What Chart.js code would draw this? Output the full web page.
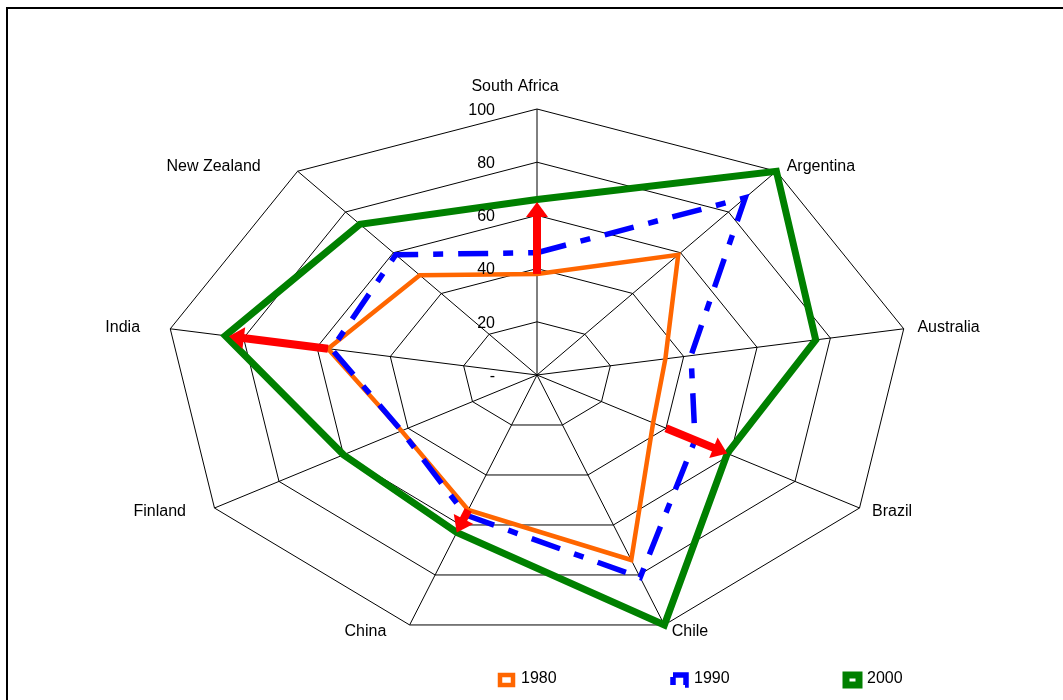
<!DOCTYPE html>
<html>
<head>
<meta charset="utf-8">
<script src="https://cdn.jsdelivr.net/npm/chart.js@4.4.1/dist/chart.umd.min.js"></script>
<style>
html, body { margin: 0; padding: 0; background: #fff; overflow: hidden; }
#frame { position: absolute; left: 6px; top: 7px; width: 1100px; height: 760px;
         border-left: 2px solid #000; border-top: 2px solid #000; box-sizing: border-box; }
#wrap { position: absolute; left: 0; top: 0; width: 1063px; height: 700px; }
</style>
</head>
<body>
<div id="frame"></div>
<div id="wrap"><canvas id="c"></canvas></div>
<script>
// ---- data ----
const categories = ['South Africa', 'Argentina', 'Australia', 'Brazil', 'Chile', 'China', 'Finland', 'India', 'New Zealand'];
const seriesNames = ['1980', '1990', '2000'];
const values1980 = [38, 59, 35, 36, 74, 54, 42, 57, 49];
const values1990 = [46, 87, 42, 49, 81, 56, 42, 56, 59];
const values2000 = [66, 100, 76, 59, 100, 63, 60, 85, 74];
const tickLabels = ['-', '20', '40', '60', '80', '100'];
// red change arrows (from -> to, same value scale)
const arrowCountries = ['South Africa', 'Brazil', 'China', 'India'];
const arrowFrom = [38, 40, 54, 57];
const arrowTo = [65, 59, 63, 84];

// ---- the plot is an ellipse in the reference: stretch the radial scale horizontally ----
const SX = 1.4;
const RL = Chart.RadialLinearScale || Chart.registry.getScale('radialLinear');
const baseGetPointPosition = RL.prototype.getPointPosition;
RL.prototype.getPointPosition = function (index, distance, extra) {
  const p = baseGetPointPosition.call(this, index, distance, extra);
  return { x: this.xCenter + (p.x - this.xCenter) * SX, y: p.y, angle: p.angle };
};

const FONT = '16px "Liberation Sans", Arial, sans-serif';
const CAP = 5.7; // half cap height at 16px

const annotate = {
  id: 'annotate',
  afterDatasetsDraw(chart) {
    const s = chart.scales.r, ctx = chart.ctx;
    ctx.save();
    ctx.fillStyle = '#FF0000';
    ctx.strokeStyle = '#FF0000';
    arrowCountries.forEach((name, k) => {
      const i = chart.data.labels.indexOf(name);
      const a = s.getPointPositionForValue(i, arrowFrom[k]);
      const b = s.getPointPositionForValue(i, arrowTo[k]);
      const dx = b.x - a.x, dy = b.y - a.y, len = Math.hypot(dx, dy);
      const ux = dx / len, uy = dy / len;
      const headLen = 15, headW = 22;
      const hx = b.x - ux * headLen, hy = b.y - uy * headLen;
      ctx.lineWidth = 8;
      ctx.lineCap = 'butt';
      ctx.beginPath();
      ctx.moveTo(a.x, a.y);
      ctx.lineTo(hx + ux, hy + uy);
      ctx.stroke();
      ctx.beginPath();
      ctx.moveTo(b.x, b.y);
      ctx.lineTo(hx - uy * headW / 2, hy + ux * headW / 2);
      ctx.lineTo(hx + uy * headW / 2, hy - ux * headW / 2);
      ctx.closePath();
      ctx.fill();
    });
    ctx.restore();
  },
  afterDraw(chart) {
    const s = chart.scales.r, ctx = chart.ctx;
    const R = s.drawingArea;
    ctx.save();
    ctx.font = FONT;
    ctx.fillStyle = '#000';
    ctx.textBaseline = 'alphabetic';
    // category labels
    chart.data.labels.forEach((lab, i) => {
      const ang = s.getIndexAngle(i);
      const sin = Math.sin(ang), cos = Math.cos(ang);
      if (Math.abs(sin) < 1e-6) {
        const p = s.getPointPosition(i, R + 24);
        ctx.textAlign = 'center';
        ctx.fillText(lab, p.x - 22, p.y + CAP);
      } else {
        const p = s.getPointPosition(i, R + 7);
        if (sin > 0) { ctx.textAlign = 'left'; ctx.fillText(lab, p.x + 4, p.y + CAP - 1); }
        else {
          ctx.textAlign = 'right';
          const off = 20 + 18 * Math.max(0, cos) * Math.max(0, cos);
          ctx.fillText(lab, p.x - off, p.y + CAP - 1);
        }
      }
    });
    // tick labels
    ctx.textAlign = 'right';
    s.ticks.forEach(t => {
      const y = s.yCenter - s.getDistanceFromCenterForValue(t.value);
      ctx.fillText(t.label, s.xCenter - 42, y + CAP);
    });
    // legend
    chart.data.datasets.forEach((ds, k) => {
      const cx = 506.5 + 173 * k, cy = 680;
      ctx.save();
      ctx.fillStyle = '#fff';
      ctx.fillRect(cx - 6.5, cy - 5, 13, 10);
      ctx.strokeStyle = ds.borderColor;
      ctx.lineWidth = ds.borderWidth;
      ctx.setLineDash(ds.borderDash ? ds.borderDash.map(v => v * 0.8) : []);
      ctx.strokeRect(cx - 6.5, cy - 5, 13, 10);
      ctx.restore();
      ctx.textAlign = 'left';
      ctx.fillText(ds.label, cx + 14.5, cy - 2.5 + CAP);
    });
    ctx.restore();
  }
};

new Chart(document.getElementById('c'), {
  type: 'radar',
  data: {
    labels: categories,
    datasets: [
      { label: seriesNames[0], data: values1980, borderColor: '#FF6600', borderWidth: 4.5, order: 2 },
      { label: seriesNames[1], data: values1990, borderColor: '#0000FF', borderWidth: 5.5, borderDash: [30, 15, 10, 15], order: 1 },
      { label: seriesNames[2], data: values2000, borderColor: '#008000', borderWidth: 7, order: 0 }
    ].map(d => Object.assign({ fill: false, backgroundColor: 'transparent', pointRadius: 0, pointHoverRadius: 0,
                               tension: 0, borderJoinStyle: 'miter', clip: false }, d))
  },
  options: {
    responsive: true,
    maintainAspectRatio: false,
    animation: false,
    events: [],
    layout: { padding: { left: 165, right: 154, top: 109, bottom: 59 } },
    plugins: { legend: { display: false }, tooltip: { enabled: false }, title: { display: false } },
    scales: {
      r: {
        min: 0, max: 100,
        startAngle: 0,
        ticks: { display: false, stepSize: 20, callback: (v, i) => tickLabels[i] },
        pointLabels: { display: false },
        grid: { color: '#000', lineWidth: 1 },
        angleLines: { display: true, color: '#000', lineWidth: 1 }
      }
    }
  },
  plugins: [annotate]
});
</script>
</body>
</html>
